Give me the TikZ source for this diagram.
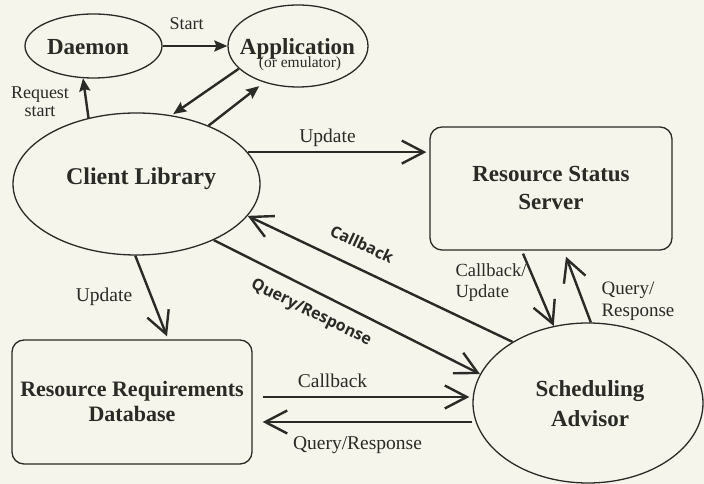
\documentclass[tikz,border=0pt]{standalone}
\usepackage{fontspec}
\setmainfont{Liberation Serif}
\newfontfamily\diagfont{Open Sans}
\usetikzlibrary{arrows.meta,shapes.geometric,calc}
\definecolor{paper}{RGB}{245,245,236}
\definecolor{ink}{RGB}{42,42,38}
\begin{document}
\begin{tikzpicture}[x=1pt,y=1pt,
  shapeline/.style={draw=ink, line width=1.3pt},
  ell/.style={shapeline, ellipse, inner sep=0pt},
  box/.style={shapeline, rounded corners=12pt, inner sep=0pt},
  big/.style={font=\fontsize{23}{28}\selectfont\bfseries, text=ink, align=center},
  small/.style={font=\fontsize{15.5}{16}\selectfont, text=ink},
  lbl/.style={font=\fontsize{19.5}{21}\selectfont, text=ink, align=center},
  diag/.style={font=\diagfont\bfseries\fontsize{16}{18}\selectfont, text=ink},
  fillarrow/.style={draw=ink, line width=2.4pt, -{Stealth[length=13pt,width=11pt,inset=2pt]}},
  openarrow/.style={draw=ink, line width=2.4pt, -{Straight Barb[length=22pt,width=23pt]}}
]
\fill[paper] (0,0) rectangle (704,484);
\useasboundingbox (0,0) rectangle (704,484);

% shapes
\node[ell, minimum width=137pt, minimum height=64pt] (daemon) at (93.5,438) {};
\node[ell, minimum width=140pt, minimum height=82pt] (app) at (298,438) {};
\node[ell, minimum width=247pt, minimum height=142pt] (cl) at (136.5,300) {};
\node[box, minimum width=242pt, minimum height=123pt] (rss) at (551,295.5) {};
\node[box, minimum width=240pt, minimum height=124pt] (rrd) at (132,82) {};
\node[ell, minimum width=230pt, minimum height=160pt] (sa) at (588,81) {};

% texts in shapes (base anchor = baseline of the last line)
\node[big, anchor=base] (daemontxt) at (88,429) {Daemon};
\node[big, anchor=base] (apptxt) at (297.5,429) {Application};
\node[small, anchor=base] (emutxt) at (300,416) {(or emulator)};
\node[big, anchor=base, font=\fontsize{24}{28}\selectfont\bfseries] (cltxt) at (141,299) {Client Library};
\node[big, anchor=base] (rsstxt) at (551,274) {Resource Status\\Server};
\node[big, anchor=base, font=\fontsize{22}{25}\selectfont\bfseries] (rrdtxt) at (132,62) {Resource Requirements\\Database};
\node[big, anchor=base, font=\fontsize{23}{30}\selectfont\bfseries] (satxt) at (590,57) {Scheduling\\Advisor};

% connectors
\draw[fillarrow] (daemon.east) -- (app.west);
\draw[fillarrow] (cl.126.5) -- (daemon.-108.7);
\draw[fillarrow, shorten >=2pt] (app.-159) -- (cl.63);
\draw[fillarrow, shorten >=6pt] (cl.39) -- (app.-133);
\draw[openarrow, shorten >=3pt] (cl.16) -- (cl.16 -| rss.west);
\draw[openarrow] (sa.141) -- (cl.-16);
\draw[openarrow] (cl.-36.5) -- (sa.165);
\draw[openarrow] (cl.-91) -- ([xshift=35pt,yshift=3pt]rrd.north);
\coordinate (cbstart) at ([xshift=10pt,yshift=5pt]rrd.east);
\coordinate (qrend) at ([xshift=10pt,yshift=-20pt]rrd.east);
\draw[openarrow, shorten >=3pt] (cbstart) -- (cbstart -| sa.west);
\draw[openarrow] (qrend -| sa.west) -- (qrend);
\draw[openarrow] ([xshift=-28pt,yshift=-3pt]rss.south) -- (sa.114);
\draw[openarrow] (sa.88.6) -- ([xshift=15pt,yshift=-6pt]rss.south);

% labels
\node[lbl, anchor=base, font=\fontsize{18}{18}\selectfont] (startlbl) at (186.5,454) {Start};
\node[lbl, anchor=base, font=\fontsize{18}{18}\selectfont] (reqlbl) at (40,367) {Request\\start};
\node[lbl, anchor=base] (updtop) at (327.5,341) {Update};
\node[diag, rotate=-25] (cbdiag) at (362,240) {Callback};
\node[diag, rotate=-26] (qrdiag) at (311,171) {Query/Response};
\node[lbl, anchor=base] (updleft) at (104,182) {Update};
\node[lbl, anchor=base] (cbh) at (332.5,96) {Callback};
\node[lbl, anchor=base] (qrh) at (357.5,34) {Query/Response};
\node[lbl, anchor=base west, align=left, font=\fontsize{18.5}{21}\selectfont] (cbu) at (452,186) {Callback/\\Update};
\node[lbl, anchor=base west, align=left, font=\fontsize{19}{22}\selectfont] (qrr) at (598,167) {Query/\\Response};
\end{tikzpicture}
\end{document}
